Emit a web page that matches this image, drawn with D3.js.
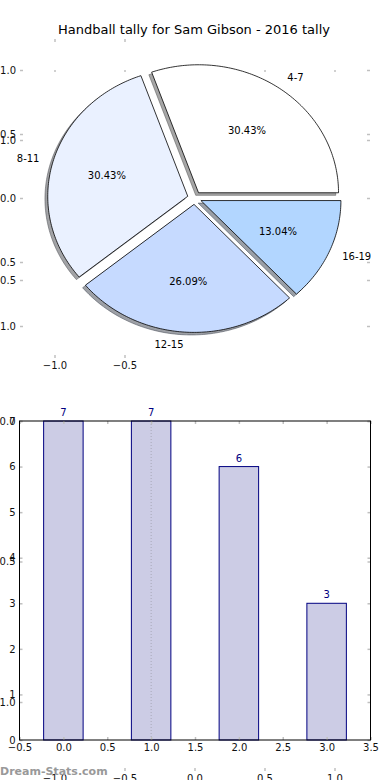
<!DOCTYPE html>
<html>
<head>
<meta charset="utf-8">
<script src="https://cdn.jsdelivr.net/npm/d3@7"></script>
<style>
  body { margin: 0; background: #fff; }
  svg { display: block; font-family: "DejaVu Sans", sans-serif; }
</style>
</head>
<body>
<svg id="grafico" width="390" height="780"></svg>
<script>
// datos del grafico
const categorias = ["4-7", "8-11", "12-15", "16-19"];
const valores = [7, 7, 6, 3];
const colores_pie = ["#ffffff", "#eaf1ff", "#c6daff", "#b2d6ff"];

// etiquetas de los ejes
const ticks_pie = [-1, -0.5, 0, 0.5, 1];
const ticks_fondo = [0, 0.5, 1];
const ticks_barra_x = [-0.5, 0, 0.5, 1, 1.5, 2, 2.5, 3, 3.5];
const ticks_barra_y = [0, 1, 2, 3, 4, 5, 6, 7];

const titulo = "Handball tally for Sam Gibson - 2016 tally";
const marca = "Dream-Stats.com";

const svg = d3.select("#grafico");
const fmt = d3.format(".1f");
const fmt_entero = d3.format("d");
const gris_tick = "#c0c0c0";

// escalas del pie (no tiene la misma escala en x que en y)
const pie_x = d3.scaleLinear().domain([-1, 1]).range([54.5, 334.5]);
const pie_y = d3.scaleLinear().domain([-1, 1]).range([326, 70]);

// ejes "de fondo" que se superponen
const fondo_sup = d3.scaleLinear().domain([0, 1]).range([420, 140]);
const fondo_inf = d3.scaleLinear().domain([0, 1]).range([421, 702]);

// escalas de las barras
const bar_x = d3.scaleLinear().domain([-0.5, 3.5]).range([19.5, 370.5]);
const bar_y = d3.scaleLinear().domain([0, 7]).range([740, 421]);

// funcion para dibujar un eje con ticks grises hacia adentro
function eje(eje_d3, x, y, con_texto) {
  const g = svg.append("g")
    .attr("transform", `translate(${x},${y})`)
    .call(eje_d3.tickSize(-3).tickPadding(4));
  g.select(".domain").remove();
  g.selectAll(".tick line").attr("stroke", gris_tick).attr("stroke-width", 1.5);
  g.selectAll(".tick text")
    .attr("fill", "#111")
    .style("font-family", "DejaVu Sans")
    .style("font-size", "10px");
  if (!con_texto) g.selectAll(".tick text").remove();
  return g;
}

// ---------- ejes del pie ----------
eje(d3.axisLeft(pie_y).tickValues(ticks_pie).tickFormat(fmt), 20, 0, true);
eje(d3.axisRight(pie_y).tickValues(ticks_pie), 370, 0, false);
eje(d3.axisLeft(fondo_sup).tickValues(ticks_fondo.slice(1)).tickFormat(fmt), 20, 0, true);
eje(d3.axisRight(fondo_sup).tickValues(ticks_fondo.slice(1)), 370, 0, false);
eje(d3.axisBottom(pie_x).tickValues(ticks_pie.slice(0, 2)), 0, 39, false)
  .selectAll(".tick line").attr("y2", 3);
eje(d3.axisBottom(pie_x).tickValues(ticks_pie.slice(0, 2)).tickFormat(fmt), 0, 358, true);
// fila de ticks a la altura de 1.0
eje(d3.axisBottom(pie_x).tickValues(ticks_pie), 0, 72, false)
  .selectAll(".tick line").attr("y2", -2);

// ---------- pie ----------
const arcos = d3.pie().sort(null).startAngle(0).endAngle(2 * Math.PI)(valores);
const total = d3.sum(valores);

// arma el camino de una cuña, desplazada (explode 0.05) y con offset extra
function cuna(a, dx, dy) {
  const medio = (a.startAngle + a.endAngle) / 2;
  const ex = 0.05 * Math.cos(medio) + dx;
  const ey = 0.05 * Math.sin(medio) + dy;
  const pts = [[ex, ey]];
  const n = Math.ceil((a.endAngle - a.startAngle) / (Math.PI / 180));
  for (let k = 0; k <= n; k++) {
    const t = a.startAngle + (a.endAngle - a.startAngle) * k / n;
    pts.push([ex + Math.cos(t), ey + Math.sin(t)]);
  }
  return d3.line().x(p => pie_x(p[0])).y(p => pie_y(p[1]))(pts) + "Z";
}

// sombras primero (quedan debajo de todas las cuñas)
arcos.forEach((a, i) => {
  const c = d3.rgb(colores_pie[i]);
  const sombra = d3.rgb(c.r * 0.3, c.g * 0.3, c.b * 0.3);
  svg.append("path")
    .attr("d", cuna(a, -0.02, -0.02))
    .attr("fill", sombra).attr("fill-opacity", 0.5)
    .attr("stroke", sombra).attr("stroke-opacity", 0.5).attr("stroke-width", 1);
});

arcos.forEach((a, i) => {
  svg.append("path")
    .attr("d", cuna(a, 0, 0))
    .attr("fill", colores_pie[i])
    .attr("stroke", "#000")
    .attr("stroke-width", 0.8);
});

// etiquetas de categorias y porcentajes
arcos.forEach((a, i) => {
  const medio = (a.startAngle + a.endAngle) / 2;
  const lx = 1.15 * Math.cos(medio);
  const ly = 1.15 * Math.sin(medio);
  svg.append("text")
    .attr("x", pie_x(lx)).attr("y", pie_y(ly))
    .attr("dy", "0.35em")
    .attr("text-anchor", lx > 0 ? "start" : "end")
    .style("font-size", "10px")
    .text(categorias[i]);
  svg.append("text")
    .attr("x", pie_x(0.65 * Math.cos(medio))).attr("y", pie_y(0.65 * Math.sin(medio)))
    .attr("dy", "0.35em")
    .attr("text-anchor", "middle")
    .style("font-size", "10px")
    .text(d3.format(".2f")(100 * a.data / total) + "%");
});

// titulo
svg.append("text")
  .attr("x", 194).attr("y", 34)
  .attr("text-anchor", "middle")
  .style("font-size", "13px")
  .text(titulo);

// ---------- barras ----------
const ancho_barra = 0.45;
valores.forEach((v, i) => {
  svg.append("rect")
    .attr("x", bar_x(i - ancho_barra / 2))
    .attr("y", bar_y(v))
    .attr("width", bar_x(i + ancho_barra / 2) - bar_x(i - ancho_barra / 2))
    .attr("height", bar_y(0) - bar_y(v))
    .attr("fill", "#ccccE5")
    .attr("stroke", "#000080")
    .attr("stroke-width", 1);
  svg.append("text")
    .attr("x", bar_x(i)).attr("y", bar_y(v) - 5)
    .attr("text-anchor", "middle")
    .attr("fill", "#000080")
    .style("font-size", "10px")
    .text(v);
});

// linea punteada en x = 1 (queda encima de la barra)
svg.append("line")
  .attr("x1", bar_x(1)).attr("x2", bar_x(1))
  .attr("y1", bar_y(7)).attr("y2", bar_y(0))
  .attr("stroke", "#a8a8b8").attr("stroke-dasharray", "1,2");

eje(d3.axisLeft(bar_y).tickValues(ticks_barra_y).tickFormat(fmt_entero), 19.5, 0, true);
eje(d3.axisRight(bar_y).tickValues(ticks_barra_y), 370.5, 0, false);
eje(d3.axisTop(bar_x).tickValues(ticks_barra_x), 0, 421, false);
eje(d3.axisBottom(bar_x).tickValues(ticks_barra_x).tickFormat(fmt), 0, 740, true);
eje(d3.axisLeft(fondo_inf).tickValues(ticks_fondo).tickFormat(fmt), 19.5, 0, true);
eje(d3.axisRight(fondo_inf).tickValues(ticks_fondo), 370.5, 0, false);

// marco negro de las barras
svg.append("rect")
  .attr("x", bar_x(-0.5)).attr("y", bar_y(7))
  .attr("width", bar_x(3.5) - bar_x(-0.5))
  .attr("height", bar_y(0) - bar_y(7))
  .attr("fill", "none").attr("stroke", "#000").attr("stroke-width", 1);

// eje inferior que queda cortado
eje(d3.axisBottom(pie_x).tickValues(ticks_pie).tickFormat(fmt), 0, 771, true);

// marca de agua
svg.append("text")
  .attr("x", 0).attr("y", 775)
  .attr("fill", "#999")
  .style("font-size", "11px")
  .style("font-weight", "bold")
  .text(marca);
</script>
</body>
</html>
